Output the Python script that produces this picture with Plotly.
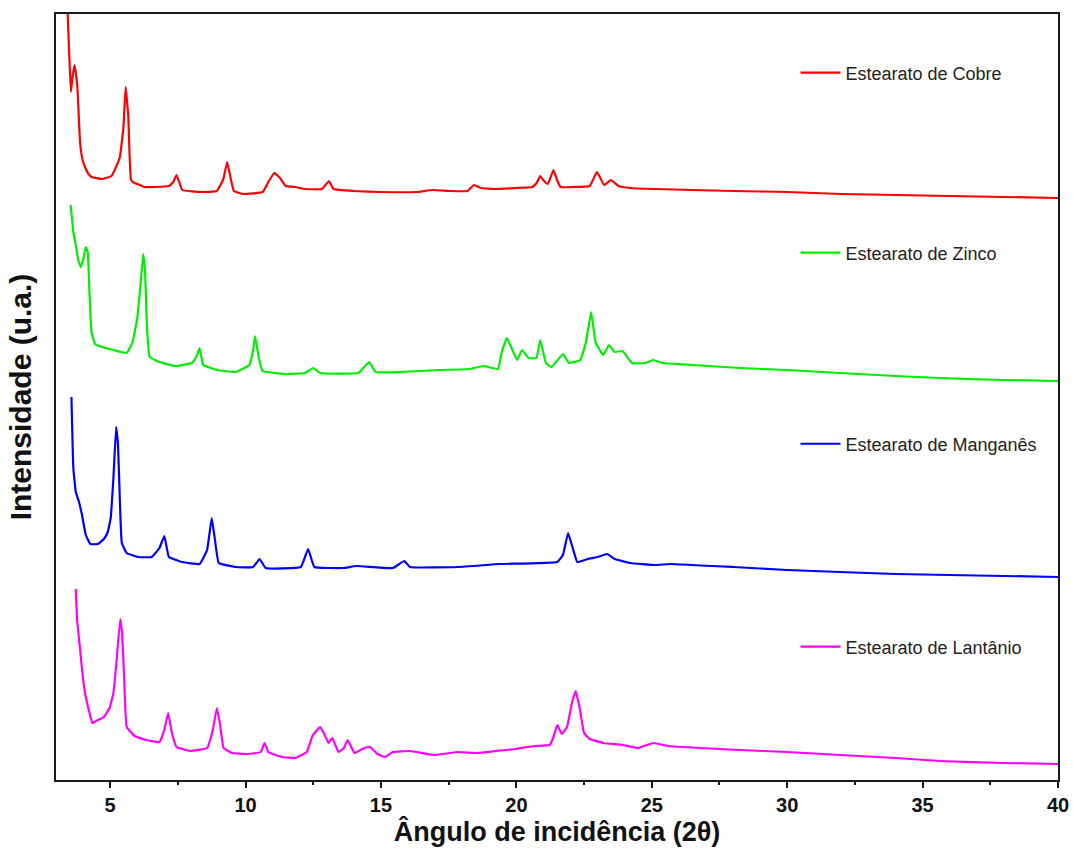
import plotly.graph_objects as go

# Diffraction patterns (2θ in degrees, intensity in arbitrary units, already stacked)
cobre_2theta = [3.40, 3.43, 3.49, 3.55, 3.62, 3.69, 3.74, 3.79, 3.89, 3.99, 4.07, 4.20, 4.32,
                4.70, 5.05, 5.20, 5.36, 5.49, 5.57, 5.62, 5.67, 5.77, 5.90, 6.10, 6.25, 6.67,
                7.17, 7.33, 7.45, 7.55, 7.66, 8.37, 8.94, 9.18, 9.32, 9.44, 9.57, 9.92, 10.63,
                10.84, 11.06, 11.27, 11.48, 11.83, 12.19, 12.82, 13.08, 13.25, 14.02, 15.01,
                16.28, 16.92, 17.56, 18.19, 18.43, 18.69, 19.25, 19.96, 20.59, 20.75, 20.88,
                21.02, 21.16, 21.37, 21.50, 21.63, 22.08, 22.71, 22.97, 23.10, 23.24, 23.49,
                23.77, 24.20, 25.12, 26.5, 28.0, 30.0, 32.0, 34.0, 36.0, 38.0, 40.0]
cobre_int = [790, 766, 725, 688, 705, 715, 705, 693, 637, 619, 613, 606, 603,
             601, 604, 612, 623, 653, 693, 680, 663, 600, 597, 595, 593, 593,
             594, 598, 605, 598, 590, 588, 589, 601, 618, 603, 589, 586, 588,
             598, 607, 602, 594, 593, 591, 591, 599, 591, 589, 588,
             588, 590, 589, 589, 595, 592, 591, 592, 593, 597, 604,
             599, 596, 610, 600, 593, 593, 594, 608, 602, 595, 600,
             594, 592, 591, 590, 589, 588, 586, 585, 584, 583, 582]

zinco_2theta = [3.54, 3.64, 3.73, 3.82, 3.92, 4.02, 4.10, 4.17, 4.24, 4.31, 4.44, 4.70, 5.12,
                5.61, 5.83, 6.00, 6.11, 6.22, 6.29, 6.36, 6.46, 6.82, 7.38, 8.02, 8.20, 8.30,
                8.44, 8.94, 9.64, 10.14, 10.28, 10.35, 10.49, 10.63, 11.48, 12.19, 12.50,
                12.75, 14.16, 14.56, 14.80, 15.72, 17.13, 18.26, 18.80, 19.32, 19.46, 19.65,
                19.82, 20.03, 20.21, 20.45, 20.74, 20.88, 21.09, 21.30, 21.72, 21.94, 22.36,
                22.57, 22.76, 22.93, 23.21, 23.42, 23.63, 23.92, 24.27, 24.76, 25.05, 25.4,
                26.5, 28.26, 30.0, 31.95, 34.0, 35.64, 38.0, 40.0]
zinco_int = [575, 548, 535, 520, 513, 522, 533, 528, 485, 448, 436, 433, 430,
             427, 438, 462, 492, 526, 508, 452, 423, 418, 414, 417, 424, 432,
             415, 410, 408, 415, 430, 444, 422, 409, 406, 407, 412,
             407, 407, 418, 408, 408, 410, 411, 414, 411, 428, 442,
             432, 420, 430, 422, 422, 440, 417, 413, 426, 417, 420,
             438, 468, 437, 425, 435, 428, 429, 417, 417, 420, 417,
             415, 412, 410, 407, 404, 402, 400, 399]

manganes_2theta = [3.57, 3.64, 3.73, 3.85, 3.96, 4.10, 4.27, 4.55, 4.77, 4.91, 5.02, 5.12,
                   5.22, 5.29, 5.36, 5.43, 5.61, 6.04, 6.53, 6.82, 7.00, 7.17, 7.66, 8.30,
                   8.58, 8.75, 8.86, 9.01, 9.64, 10.28, 10.52, 10.74, 12.04, 12.31, 12.54,
                   13.60, 14.09, 15.44, 15.86, 16.07, 17.84, 19.39, 21.51, 21.72, 21.91,
                   22.08, 22.25, 22.64, 23.00, 23.35, 23.63, 24.20, 25.12, 25.67, 28.0,
                   30.0, 31.95, 34.0, 36.0, 38.0, 40.0]
manganes_int = [383, 312, 288, 278, 265, 245, 236, 236, 241, 248, 262, 302,
                353, 335, 278, 237, 227, 223, 223, 232, 244, 223, 218, 216,
                230, 262, 242, 217, 213, 213, 221, 212, 213, 231, 213,
                212, 214, 212, 219, 213, 213, 216, 218, 225, 247,
                232, 218, 221, 223, 226, 221, 217, 215, 216, 213,
                210, 208, 206, 205, 204, 203]

lantanio_2theta = [3.73, 3.78, 3.88, 3.99, 4.10, 4.24, 4.34, 4.55, 4.77, 4.98, 5.12, 5.23,
                   5.37, 5.44, 5.52, 5.61, 5.90, 6.32, 6.82, 7.00, 7.14, 7.28, 7.45, 7.95,
                   8.58, 8.79, 8.94, 9.05, 9.19, 9.50, 10.07, 10.56, 10.70, 10.84, 11.34,
                   11.83, 12.26, 12.47, 12.75, 12.89, 13.06, 13.20, 13.43, 13.63, 13.77,
                   14.02, 14.31, 14.59, 14.87, 15.15, 15.44, 16.07, 16.99, 17.84, 18.55,
                   19.25, 19.96, 20.67, 21.23, 21.37, 21.51, 21.68, 21.87, 22.05, 22.19,
                   22.33, 22.50, 22.71, 23.21, 23.92, 24.48, 25.05, 25.6, 28.26, 30.0,
                   31.95, 34.0, 35.64, 38.0, 40.0]
lantanio_int = [191, 160, 133, 103, 83, 67, 57, 60, 63, 72, 87, 117,
                161, 147, 100, 53, 44, 40, 38, 50, 67, 47, 33, 29,
                32, 50, 72, 57, 32, 27, 26, 28, 37, 28, 23,
                22, 28, 44, 53, 47, 37, 42, 28, 32, 40,
                27, 31, 33, 26, 23, 28, 29, 25, 28, 27,
                29, 31, 34, 35, 43, 55, 46, 53, 77, 89,
                73, 47, 41, 37, 35, 32, 37, 34, 30, 28,
                25, 22, 19, 17, 16]

series = [
    ("Estearato de Cobre", cobre_2theta, cobre_int, "#ff0000", "legend", 0.923),
    ("Estearato de Zinco", zinco_2theta, zinco_int, "#00ee00", "legend2", 0.688),
    ("Estearato de Manganês", manganes_2theta, manganes_int, "#0000ff", "legend3", 0.4386),
    ("Estearato de Lantânio", lantanio_2theta, lantanio_int, "#ff00ff", "legend4", 0.1736),
]

FONT = "Liberation Sans, Arial, sans-serif"

fig = go.Figure()
legend_layouts = {}
for name, x, y, color, leg, ly in series:
    fig.add_trace(go.Scatter(x=x, y=y, mode="lines", name=name, legend=leg,
                             line=dict(color=color, width=2.2, shape="spline", smoothing=0.3)))
    legend_layouts[leg] = dict(
        x=0.738, y=ly, xanchor="left", yanchor="middle",
        bgcolor="rgba(0,0,0,0)", borderwidth=0, itemwidth=40,
        font=dict(family=FONT, size=18, color="#222222"),
    )

fig.update_layout(
    width=1073, height=854,
    margin=dict(l=56, r=15, t=14, b=74, pad=0, autoexpand=False),
    paper_bgcolor="white", plot_bgcolor="white",
    showlegend=True,
    **legend_layouts,
)

fig.update_xaxes(
    range=[3, 40], tick0=0, dtick=5, automargin=False,
    ticks="outside", ticklen=6, tickwidth=2, tickcolor="#1a1a1a",
    showline=True, linewidth=2, linecolor="#1a1a1a", mirror=True,
    showgrid=False, zeroline=False,
    minor=dict(dtick=2.5, ticks="outside", ticklen=3, tickwidth=2, tickcolor="#1a1a1a", showgrid=False),
    tickfont=dict(family=FONT, size=20, color="#111111", weight="bold"),
    title=dict(text="Ângulo de incidência (2θ)", standoff=7,
               font=dict(family=FONT, size=27, color="#111111", weight="bold")),
)
fig.update_yaxes(
    range=[0, 766], showticklabels=False, ticks="", automargin=False,
    showline=True, linewidth=2, linecolor="#1a1a1a", mirror=True,
    showgrid=False, zeroline=False,
    title=dict(text="Intensidade (u.a.)", standoff=14,
               font=dict(family=FONT, size=30, color="#111111", weight="bold")),
)

fig.write_html("out.html")
